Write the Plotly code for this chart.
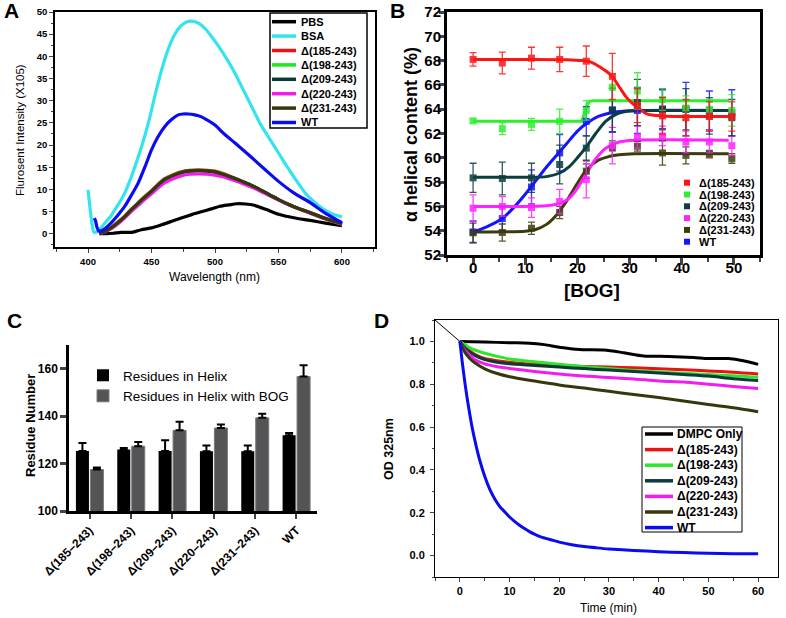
import plotly.graph_objects as go

W, H = 786, 618
ARIAL = "Arial, Liberation Sans, sans-serif"

# ---------- panel A: fluorescence spectra ----------
a_names = ["PBS", "BSA", "Δ(185-243)", "Δ(198-243)", "Δ(209-243)", "Δ(220-243)", "Δ(231-243)", "WT"]
a_colors = ["#000000", "#33e4ee", "#ee1111", "#22e622", "#0b3a3a", "#f01cf0", "#37370c", "#0b0bf0"]

pbs_nm = [409, 415, 420, 426, 434.7, 442, 450, 458, 466, 474, 481.6, 490, 497, 504, 511, 517, 524, 531, 540, 550, 562, 575, 587, 600]
pbs_int = [0, 0, 0.1, 0.3, 0.3, 0.9, 1.3, 2.0, 2.8, 3.6, 4.3, 5.0, 5.6, 6.2, 6.5, 6.75, 6.7, 6.4, 5.5, 4.4, 3.6, 3.0, 2.4, 1.8]

bsa_nm = [400, 401.5, 403, 404.5, 406, 409, 413, 418, 423, 428, 433, 438, 443, 448, 453, 458, 463, 468, 473, 478,
          483, 488, 493, 498, 503, 508, 515, 522, 529, 536, 543, 550, 557, 564, 571, 578, 585, 592, 600]
bsa_int = [9.9, 6.0, 2.5, 0.4, 0.3, 0.9, 2.3, 4.0, 6.2, 8.6, 12.0, 16.0, 20.4, 25.5, 31.5, 37.0, 41.5, 44.8, 46.8, 47.8,
           47.9, 47.3, 46.0, 44.2, 42.2, 40.0, 36.6, 32.6, 28.6, 24.6, 21.4, 18.2, 15.0, 12.0, 9.2, 7.2, 5.6, 4.5, 3.8]

# the five truncation mutants share one wavelength grid
mut_nm = [409, 413, 418, 423, 429, 434, 439.5, 445, 450, 455, 460.5, 467, 474, 480, 487, 494, 500, 507, 514, 521,
          528, 535, 542, 550, 558, 566, 575, 583, 591, 600]
d185_int = [0, 0.5, 1.4, 2.5, 4.0, 5.5, 7.0, 8.5, 9.7, 11.1, 12.4, 13.3, 14.0, 14.3, 14.4, 14.3, 14.1, 13.5, 12.7, 11.9,
            11.0, 10.0, 8.9, 7.7, 6.6, 5.6, 4.6, 3.7, 2.9, 2.1]
d198_int = [0, 0.5, 1.3, 2.4, 3.9, 5.4, 6.9, 8.4, 9.6, 11.0, 12.3, 13.2, 13.9, 14.2, 14.3, 14.2, 14.0, 13.4, 12.6, 11.8,
            11.0, 10.0, 8.9, 7.7, 6.6, 5.6, 4.7, 3.8, 3.0, 2.2]
d209_int = [0, 0.4, 1.2, 2.3, 3.8, 5.3, 6.8, 8.2, 9.5, 10.9, 12.2, 13.1, 13.8, 14.1, 14.2, 14.1, 13.9, 13.3, 12.6, 11.8,
            11.0, 10.0, 8.9, 7.7, 6.6, 5.7, 4.8, 3.9, 3.1, 2.3]
d220_int = [0, 0.4, 1.1, 2.1, 3.6, 5.0, 6.4, 7.8, 9.0, 10.3, 11.5, 12.4, 13.1, 13.4, 13.5, 13.4, 13.2, 12.8, 12.1, 11.4,
            10.6, 9.7, 8.7, 7.6, 6.5, 5.6, 4.7, 3.8, 3.0, 2.2]
d231_int = [0, 0.45, 1.25, 2.35, 3.85, 5.35, 6.85, 8.3, 9.55, 10.95, 12.25, 13.15, 13.85, 14.15, 14.25, 14.15, 13.95, 13.35, 12.6, 11.8,
            11.0, 10.0, 8.9, 7.7, 6.6, 5.65, 4.75, 3.85, 3.05, 2.25]

wt_nm = [405, 406, 407, 408.5, 410, 414, 418, 423, 429, 434, 439.5, 445, 450, 455, 460.5, 466, 471, 475, 479, 484,
         489, 494, 500, 508, 516, 528, 540, 550, 562, 575, 587, 600]
wt_int = [3.5, 2.8, 1.5, 0.6, 0.6, 1.3, 2.4, 4.0, 6.2, 8.6, 11.4, 15.2, 18.9, 21.8, 24.2, 25.8, 26.8, 27.0, 27.0, 26.8,
          26.4, 25.6, 24.5, 22.3, 20.4, 17.4, 14.3, 11.8, 9.2, 7.0, 4.6, 2.5]

# ---------- panel B: helical content vs BOG ----------
b_names = ["Δ(185-243)", "Δ(198-243)", "Δ(209-243)", "Δ(220-243)", "Δ(231-243)", "WT"]
b_colors = ["#ff1414", "#2cf02c", "#0c3e3e", "#ff22ff", "#3b3b0c", "#1414ff"]
bog = [0, 5.6, 11.2, 16.6, 21.7, 26.7, 31.5, 36.3, 40.8, 45.3, 49.6]
b_d185 = [68.1, 67.8, 68.2, 68.1, 67.95, 66.7, 64.3, 63.45, 63.3, 63.4, 63.4]
b_d185_err = [0.55, 0.9, 0.9, 1.0, 1.25, 1.9, 1.4, 1.5, 1.5, 1.2, 1.2]
b_d198 = [63.04, 62.4, 62.75, 63.0, 63.9, 65.8, 65.5, 64.8, 64.1, 64.0, 63.9]
b_d198_err = [0.15, 0.5, 0.5, 1.0, 0.8, 1.1, 1.5, 0.9, 1.0, 0.8, 1.3]
b_d209 = [58.35, 58.3, 58.35, 59.45, 60.8, 63.95, 64.55, 64.0, 64.0, 63.45, 63.3]
b_d209_err = [1.2, 1.35, 1.2, 1.6, 1.0, 1.8, 1.9, 1.7, 1.7, 1.5, 1.5]
b_d220 = [55.85, 56.0, 55.9, 56.4, 58.2, 61.0, 61.7, 61.8, 61.3, 61.3, 61.0]
b_d220_err = [1.1, 0.8, 0.8, 1.0, 1.5, 1.5, 0.9, 0.8, 0.9, 0.9, 0.8]
b_d231 = [53.83, 53.85, 54.2, 55.5, 58.9, 60.8, 60.95, 60.4, 60.2, 60.3, 59.95]
b_d231_err = [0.8, 0.7, 0.5, 0.5, 0.6, 0.6, 0.4, 1.0, 0.7, 0.3, 0.4]
b_wt = [53.9, 55.0, 57.6, 60.4, 63.0, 63.9, 63.9, 64.0, 64.0, 63.9, 63.7]
b_wt_err = [0.9, 1.0, 1.4, 1.5, 1.2, 1.8, 1.9, 1.6, 2.2, 1.6, 1.9]

# fitted sigmoid curves
fit_d185_x = [0, 10, 18, 21, 22.5, 24.4, 25.6, 26.7, 28, 29.4, 30.5, 31.5, 33.4, 36.3, 40, 49]
fit_d185_y = [68.1, 68.1, 68.08, 68.0, 67.9, 67.46, 67.1, 66.7, 65.85, 64.97, 64.5, 64.14, 63.6, 63.45, 63.4, 63.4]
fit_d198_x = [0, 20.8, 21.3, 21.8, 22.3, 23, 49]
fit_d198_y = [63.0, 63.0, 63.6, 64.3, 64.65, 64.7, 64.7]
fit_d209_x = [0, 12, 14, 16.6, 18.5, 20, 21.7, 23.5, 25.4, 27.5, 30, 33, 49]
fit_d209_y = [58.4, 58.4, 58.45, 58.75, 59.3, 60.0, 60.9, 62.0, 63.0, 63.6, 63.85, 63.9, 63.9]
fit_d220_x = [0, 14, 16.6, 18.5, 20, 21.7, 23.5, 25.5, 28, 31, 49]
fit_d220_y = [56.0, 56.05, 56.25, 56.7, 57.5, 58.7, 59.9, 60.8, 61.3, 61.45, 61.45]
fit_d231_x = [0, 10, 12, 14, 16, 18, 20, 21.7, 24, 26, 28, 31, 49]
fit_d231_y = [53.9, 53.95, 54.1, 54.5, 55.3, 56.5, 57.9, 59.0, 59.8, 60.1, 60.25, 60.33, 60.33]
fit_wt_x = [0, 2.5, 5.6, 8, 10, 12, 14, 16, 18, 20, 22, 24, 27, 30, 35, 49]
fit_wt_y = [53.9, 54.3, 55.0, 56.0, 57.0, 58.1, 59.2, 60.2, 61.2, 62.2, 62.9, 63.4, 63.75, 63.88, 63.9, 63.9]

# ---------- panel C: residues in helix ----------
c_groups = ["Δ(185–243)", "Δ(198–243)", "Δ(209–243)", "Δ(220–243)", "Δ(231–243)", "WT"]
c_helix = [125.3, 125.9, 125.3, 125.2, 125.2, 131.9]
c_helix_err = [3.4, 0.7, 4.5, 2.4, 2.4, 1.0]
c_helix_bog = [117.5, 127.3, 134.0, 135.0, 139.3, 156.7]
c_helix_bog_err = [0.8, 1.8, 3.6, 1.5, 1.7, 4.8]

# ---------- panel D: DMPC clearance ----------
d_names = ["DMPC Only", "Δ(185-243)", "Δ(198-243)", "Δ(209-243)", "Δ(220-243)", "Δ(231-243)", "WT"]
d_colors = ["#000000", "#ee1111", "#2ce62c", "#0b3a3a", "#f01cf0", "#37370c", "#0b0bf0"]
dmpc_t = [0, 5, 10, 14, 17, 20, 24, 29, 33, 37, 42, 47, 50, 54, 57, 60]
dmpc_od = [1.0, 0.997, 0.994, 0.992, 0.985, 0.973, 0.962, 0.96, 0.947, 0.932, 0.93, 0.925, 0.92, 0.92, 0.91, 0.893]
mut_t = [0, 1, 2, 3, 5, 7.5, 10, 15, 20, 25, 30, 35, 40, 45, 50, 55, 60]
d185_od = [1.0, 0.975, 0.955, 0.94, 0.92, 0.91, 0.903, 0.893, 0.887, 0.883, 0.88, 0.877, 0.872, 0.868, 0.862, 0.856, 0.848]
d198_od = [1.0, 0.985, 0.97, 0.96, 0.945, 0.93, 0.918, 0.905, 0.893, 0.882, 0.873, 0.864, 0.857, 0.851, 0.845, 0.84, 0.833]
d209_od = [1.0, 0.97, 0.95, 0.935, 0.915, 0.903, 0.896, 0.888, 0.88, 0.873, 0.866, 0.86, 0.852, 0.845, 0.838, 0.826, 0.818]
d220_od = [1.0, 0.96, 0.935, 0.915, 0.895, 0.882, 0.874, 0.86, 0.848, 0.838, 0.832, 0.825, 0.815, 0.81, 0.8, 0.79, 0.78]
d231_od = [1.0, 0.95, 0.92, 0.9, 0.872, 0.85, 0.835, 0.815, 0.797, 0.782, 0.767, 0.752, 0.738, 0.722, 0.705, 0.69, 0.672]
wt_t = [0, 0.5, 1, 1.5, 2, 2.5, 3, 3.5, 4, 5, 6, 7, 8, 9, 10, 11, 12, 13, 14, 15, 16, 17.5, 20, 22.5, 25, 27.5, 30,
        35, 40, 45, 50, 55, 60]
wt_od = [1.0, 0.9, 0.81, 0.73, 0.66, 0.595, 0.54, 0.49, 0.445, 0.37, 0.31, 0.265, 0.23, 0.205, 0.18, 0.16, 0.142,
         0.126, 0.112, 0.1, 0.09, 0.079, 0.063, 0.051, 0.042, 0.036, 0.031, 0.024, 0.018, 0.014, 0.011, 0.009, 0.008]
# stray baseline segment at the top-left corner of the plot
lead_t = [-5, 0]
lead_od = [1.1, 1.0]


def px(x):
    return x / W


def py(y):
    return 1 - y / H


fig = go.Figure()

# ---- A traces ----
a_x = [pbs_nm, bsa_nm, mut_nm, mut_nm, mut_nm, mut_nm, mut_nm, wt_nm]
a_y = [pbs_int, bsa_int, d185_int, d198_int, d209_int, d220_int, d231_int, wt_int]
for name, col, xs, ys in zip(a_names, a_colors, a_x, a_y):
    fig.add_trace(go.Scatter(x=xs, y=ys, name=name, mode="lines", line=dict(color=col, width=3.2, shape="spline", smoothing=0.6),
                             xaxis="x", yaxis="y", showlegend=False))

# ---- B traces ----
fits = [(fit_wt_x, fit_wt_y, 5), (fit_d231_x, fit_d231_y, 4), (fit_d220_x, fit_d220_y, 3),
        (fit_d209_x, fit_d209_y, 2), (fit_d198_x, fit_d198_y, 1), (fit_d185_x, fit_d185_y, 0)]
for fx, fy, k in fits:
    shape = "linear" if k == 1 else "spline"
    fig.add_trace(go.Scatter(x=fx, y=fy, mode="lines", line=dict(color=b_colors[k], width=3, shape=shape, smoothing=0.7),
                             xaxis="x2", yaxis="y2", showlegend=False, hoverinfo="skip"))
b_sets = [(b_wt, b_wt_err, 5), (b_d231, b_d231_err, 4), (b_d220, b_d220_err, 3),
          (b_d209, b_d209_err, 2), (b_d198, b_d198_err, 1), (b_d185, b_d185_err, 0)]
for vals, err, k in b_sets:
    fig.add_trace(go.Scatter(x=bog, y=vals, name=b_names[k], mode="markers",
                             marker=dict(symbol="square", size=7, color=b_colors[k]),
                             error_y=dict(type="data", array=err, color=b_colors[k], thickness=1.3, width=3.5),
                             xaxis="x2", yaxis="y2", showlegend=False, opacity=0.85))

# ---- C traces ----
fig.add_trace(go.Bar(x=c_groups, y=c_helix, name="Residues in Helix", marker=dict(color="#000000", line=dict(width=0)),
                     error_y=dict(type="data", symmetric=False, array=c_helix_err, arrayminus=[0] * 6,
                                  color="#000000", thickness=2, width=4),
                     xaxis="x3", yaxis="y3"))
fig.add_trace(go.Bar(x=c_groups, y=c_helix_bog, name="Residues in Helix with BOG",
                     marker=dict(color="#545456", line=dict(color="#7a7a7c", width=1)),
                     error_y=dict(type="data", symmetric=False, array=c_helix_bog_err, arrayminus=[0] * 6,
                                  color="#000000", thickness=2, width=4),
                     xaxis="x3", yaxis="y3"))

# ---- D traces ----
fig.add_trace(go.Scatter(x=lead_t, y=lead_od, mode="lines", line=dict(color="#000000", width=1),
                         xaxis="x4", yaxis="y4", showlegend=False, hoverinfo="skip"))
d_x = [dmpc_t, mut_t, mut_t, mut_t, mut_t, mut_t, wt_t]
d_y = [dmpc_od, d185_od, d198_od, d209_od, d220_od, d231_od, wt_od]
for name, col, xs, ys in zip(d_names, d_colors, d_x, d_y):
    fig.add_trace(go.Scatter(x=xs, y=ys, name=name, mode="lines", line=dict(color=col, width=3, shape="spline", smoothing=0.8),
                             xaxis="x4", yaxis="y4", showlegend=False))

# ---------- axes ----------
tick_a = dict(family=ARIAL, size=9.5, color="#000000", weight="bold")
common = dict(showgrid=False, zeroline=False, automargin=False, linecolor="#000000", showline=True)
fig.update_layout(
    xaxis=dict(domain=[px(55), px(375)], range=[374, 626], anchor="y", tick0=0, dtick=50, ticks="outside", ticklen=4,
               tickwidth=1.2, linewidth=1.5, mirror=True, tickfont=tick_a, ticklabelstandoff=1,
               minor=dict(dtick=25, ticks="outside", ticklen=3, tickwidth=1), **common),
    yaxis=dict(domain=[py(247), py(12)], range=[-3, 50], anchor="x", tick0=0, dtick=5, ticks="outside", ticklen=4,
               tickwidth=1.2, linewidth=1.5, mirror=True, tickfont=tick_a,
               minor=dict(dtick=2.5, ticks="outside", ticklen=2, tickwidth=1), **common),
    xaxis2=dict(domain=[px(447), px(760)], range=[-5, 55], anchor="y2", tick0=0, dtick=10, ticks="outside", ticklen=7,
                tickwidth=2.5, linewidth=3, mirror=True, ticklabelstandoff=-10,
                tickfont=dict(family=ARIAL, size=15, color="#000000", weight="bold"),
                minor=dict(dtick=5, ticks="outside", ticklen=4, tickwidth=2), **common),
    yaxis2=dict(domain=[py(255), py(12)], range=[52, 72], anchor="x2", tick0=0, dtick=2, ticks="outside", ticklen=5,
                tickwidth=2.5, linewidth=3, mirror=True, ticklabelstandoff=-5,
                tickfont=dict(family=ARIAL, size=15, color="#000000", weight="bold"), **common),
    xaxis3=dict(domain=[px(69), px(317)], type="category", range=[-0.5, 5.5], anchor="y3", ticks="outside", ticklen=5,
                tickwidth=2, linewidth=2.5, tickangle=-45,
                tickfont=dict(family=ARIAL, size=12, color="#000000", weight="bold"), **common),
    yaxis3=dict(domain=[py(511), py(345)], range=[100, 170], anchor="x3", tickvals=[100, 120, 140, 160],
                ticks="outside", ticklen=6, tickwidth=2.5, linewidth=2.5,
                tickfont=dict(family=ARIAL, size=12, color="#000000", weight="bold"), **common),
    xaxis4=dict(domain=[px(435), px(778)], range=[-5, 64], anchor="y4", tick0=0, dtick=10, ticks="outside", ticklen=4,
                tickwidth=1, linewidth=1, mirror=True,
                tickfont=dict(family=ARIAL, size=11, color="#000000", weight="bold"),
                minor=dict(dtick=5, ticks="outside", ticklen=2.5, tickwidth=1), **common),
    yaxis4=dict(domain=[py(577), py(320)], range=[-0.1, 1.1], anchor="x4", tick0=0, dtick=0.2, tickformat=".1f",
                ticks="outside", ticklen=4, tickwidth=1, linewidth=1, mirror=True, ticklabelstandoff=3,
                tickfont=dict(family=ARIAL, size=11, color="#000000", weight="bold"),
                minor=dict(dtick=0.1, ticks="outside", ticklen=2.5, tickwidth=1), **common),
)

fig.update_layout(
    width=W, height=H, margin=dict(l=0, r=0, t=0, b=0, autoexpand=False),
    paper_bgcolor="white", plot_bgcolor="white",
    barmode="group", bargap=0.3, bargroupgap=0.1,
    font=dict(family=ARIAL, color="#000000"),
    legend=dict(x=px(83), y=py(360), xanchor="left", yanchor="top", bgcolor="rgba(0,0,0,0)",
                font=dict(family=ARIAL, size=13.5, color="#000000"), tracegroupgap=0, itemwidth=30),
)


def note(x, y, text, size, bold=False, angle=0, anchor="center"):
    fig.add_annotation(x=px(x), y=py(y), xref="paper", yref="paper", text=text, showarrow=False,
                       xanchor=anchor, yanchor="middle", textangle=angle,
                       font=dict(family=ARIAL, size=size, color="#000000", weight="bold" if bold else "normal"))


# panel letters
note(11, 11, "A", 21, bold=True)
note(397, 11, "B", 21, bold=True)
note(14, 320, "C", 21, bold=True)
note(381, 320, "D", 21, bold=True)

# axis titles
note(20, 130, "Flurosent Intensity (X105)", 11.5, angle=-90)
note(215, 277, "Wavelength (nm)", 12)
note(411, 135, "α helical content (%)", 18, bold=True, angle=-90)
note(592, 290, "[BOG]", 19, bold=True)
note(30, 426, "Residue Number", 13, bold=True, angle=-90)
note(389, 449, "OD 325nm", 12.5, bold=True, angle=-90)
note(608, 608, "Time (min)", 12)

# legend A (boxed, line samples)
fig.add_shape(type="rect", xref="paper", yref="paper", x0=px(270), x1=px(367), y0=py(128), y1=py(13),
              line=dict(color="#000000", width=1.5), fillcolor="white")
for i, (name, col) in enumerate(zip(a_names, a_colors)):
    yy = 21.7 + 14.4 * i
    fig.add_shape(type="line", xref="paper", yref="paper", x0=px(272), x1=px(296), y0=py(yy), y1=py(yy),
                  line=dict(color=col, width=3.5))
    note(299, yy, name, 11, bold=True, anchor="left")

# legend B (square markers, no box)
for i, (name, col) in enumerate(zip(b_names, b_colors)):
    yy = 182.7 + 11.8 * i
    fig.add_shape(type="rect", xref="paper", yref="paper", x0=px(684), x1=px(690), y0=py(yy + 3), y1=py(yy - 3),
                  line=dict(width=0), fillcolor=col)
    note(697, yy, name, 11, bold=True, anchor="left")

# legend D (boxed, line samples)
fig.add_shape(type="rect", xref="paper", yref="paper", x0=px(642), x1=px(742), y0=py(532), y1=py(427),
              line=dict(color="#000000", width=1), fillcolor="white")
for i, (name, col) in enumerate(zip(d_names, d_colors)):
    yy = 434 + 15.6 * i
    fig.add_shape(type="line", xref="paper", yref="paper", x0=px(645), x1=px(673), y0=py(yy), y1=py(yy),
                  line=dict(color=col, width=3.5))
    note(675, yy, name, 12, bold=True, anchor="left")

# the page's default 8px body margin would push the 786x618 figure past the window
fig.write_html("out.html", config={"displayModeBar": False},
               post_script="document.body.style.margin = '0';")
